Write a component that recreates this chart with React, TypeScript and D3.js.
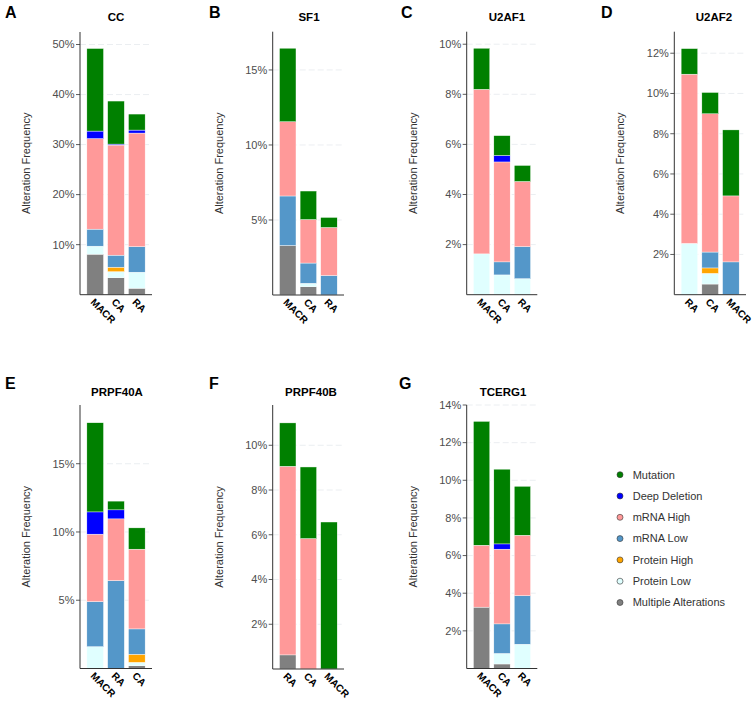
import React from "react";
import * as d3 from "d3";

// Series in stacking order (bottom -> top)
const seriesKeys = [
  "Multiple Alterations",
  "Protein Low",
  "Protein High",
  "mRNA Low",
  "mRNA High",
  "Deep Deletion",
  "Mutation",
];
const seriesColors = ["#808080", "#E0FFFF", "#FFA500", "#5497C9", "#FF9999", "#0000FF", "#008000"];
const legendOrder = [
  "Mutation",
  "Deep Deletion",
  "mRNA High",
  "mRNA Low",
  "Protein High",
  "Protein Low",
  "Multiple Alterations",
];

// Values (%) per cancer type, in seriesKeys order
const ccCategories = ["MACR", "CA", "RA"];
const ccValues = [
  [8.1, 1.6, 0, 3.4, 18.1, 1.5, 16.5],
  [3.4, 1.2, 0.9, 2.4, 22.0, 0.2, 8.6],
  [1.3, 3.2, 0, 5.1, 22.7, 0.6, 3.2],
];
const ccTicks = [10, 20, 30, 40, 50];

const sf1Categories = ["MACR", "CA", "RA"];
const sf1Values = [
  [3.3, 0, 0, 3.3, 4.95, 0, 4.9],
  [0.55, 0.23, 0, 1.35, 2.9, 0, 1.9],
  [0, 0, 0, 1.3, 3.2, 0, 0.67],
];
const sf1Ticks = [5, 10, 15];

const u2af1Categories = ["MACR", "CA", "RA"];
const u2af1Values = [
  [0, 1.63, 0, 0, 6.57, 0, 1.64],
  [0, 0.79, 0, 0.52, 3.99, 0.26, 0.79],
  [0, 0.64, 0, 1.28, 2.6, 0, 0.64],
];
const u2af1Ticks = [2, 4, 6, 8, 10];

const u2af2Categories = ["RA", "CA", "MACR"];
const u2af2Values = [
  [0, 2.55, 0, 0, 8.41, 0, 1.27],
  [0.53, 0.53, 0.27, 0.79, 6.87, 0, 1.06],
  [0, 0, 0, 1.63, 3.28, 0, 3.28],
];
const u2af2Ticks = [2, 4, 6, 8, 10, 12];

const prpf40aCategories = ["MACR", "RA", "CA"];
const prpf40aValues = [
  [0, 1.6, 0, 3.3, 4.94, 1.63, 6.53],
  [0, 0, 0, 6.44, 4.52, 0.66, 0.64],
  [0.2, 0.25, 0.59, 1.86, 5.84, 0, 1.56],
];
const prpf40aTicks = [5, 10, 15];

const prpf40bCategories = ["RA", "CA", "MACR"];
const prpf40bValues = [
  [0.63, 0, 0, 0, 8.43, 0, 1.94],
  [0, 0, 0, 0, 5.83, 0, 3.2],
  [0, 0, 0, 0, 0, 0, 6.57],
];
const prpf40bTicks = [2, 4, 6, 8, 10];

const tcerg1Categories = ["MACR", "CA", "RA"];
const tcerg1Values = [
  [3.26, 0, 0, 0, 3.29, 0, 6.58],
  [0.24, 0.56, 0, 1.57, 3.97, 0.28, 3.97],
  [0, 1.29, 0, 2.58, 3.21, 0, 2.6],
];
const tcerg1Ticks = [2, 4, 6, 8, 10, 12, 14];

const panelLetters = ["A", "B", "C", "D", "E", "F", "G"];
const panelTitles = ["CC", "SF1", "U2AF1", "U2AF2", "PRPF40A", "PRPF40B", "TCERG1"];
const panelMax = [52.5, 17.55, 10.5, 13.07, 19.3, 11.8, 14];

const panelData = [
  { categories: ccCategories, values: ccValues, ticks: ccTicks },
  { categories: sf1Categories, values: sf1Values, ticks: sf1Ticks },
  { categories: u2af1Categories, values: u2af1Values, ticks: u2af1Ticks },
  { categories: u2af2Categories, values: u2af2Values, ticks: u2af2Ticks },
  { categories: prpf40aCategories, values: prpf40aValues, ticks: prpf40aTicks },
  { categories: prpf40bCategories, values: prpf40bValues, ticks: prpf40bTicks },
  { categories: tcerg1Categories, values: tcerg1Values, ticks: tcerg1Ticks },
];

// Layout (pixel positions)
const layouts = [
  { x0: 80, x1: 152, top: 32, bottom: 294.7, letterX: 5, letterY: 18, titleX: 116, titleY: 21 },
  { x0: 272.7, x1: 344, top: 31.7, bottom: 295, letterX: 209, letterY: 18, titleX: 309, titleY: 21 },
  { x0: 466.7, x1: 537.3, top: 31.7, bottom: 294.7, letterX: 401, letterY: 18, titleX: 507, titleY: 21 },
  { x0: 674.3, x1: 746, top: 31.7, bottom: 294.7, letterX: 601, letterY: 18, titleX: 714, titleY: 21 },
  { x0: 80, x1: 152, top: 405, bottom: 668.5, letterX: 5, letterY: 389, titleX: 117, titleY: 395.7 },
  { x0: 272.7, x1: 344, top: 405, bottom: 669, letterX: 209, letterY: 389, titleX: 311, titleY: 395.7 },
  { x0: 466.7, x1: 537.3, top: 405, bottom: 668.5, letterX: 399, letterY: 389, titleX: 503, titleY: 395.7 },
];

const FONT = "'Liberation Sans', Arial, Helvetica, sans-serif";

function Panel({ idx }: { idx: number }) {
  const d = panelData[idx];
  const L = layouts[idx];
  const x = d3
    .scaleBand<string>()
    .domain(d.categories)
    .range([L.x0, L.x1])
    .paddingInner(0.2)
    .paddingOuter(0.33);
  const y = d3.scaleLinear().domain([0, panelMax[idx]]).range([L.bottom, L.top]);

  const rows = d.categories.map((c, i) => {
    const r: any = { cat: c };
    seriesKeys.forEach((k, j) => (r[k] = d.values[i][j]));
    return r;
  });
  const stacked = d3.stack<any>().keys(seriesKeys)(rows);

  return (
    <g>
      <text x={L.letterX} y={L.letterY} fontSize={16} fontWeight="bold" fill="#000" fontFamily={FONT}>
        {panelLetters[idx]}
      </text>
      <text
        x={L.titleX}
        y={L.titleY}
        fontSize={11.5}
        fontWeight="bold"
        textAnchor="middle"
        fill="#000"
        fontFamily={FONT}
      >
        {panelTitles[idx]}
      </text>
      {d.ticks.map((t) => (
        <line
          key={"g" + t}
          x1={L.x0}
          x2={L.x1}
          y1={y(t)}
          y2={y(t)}
          stroke="#e6eaee"
          strokeWidth={0.8}
          strokeDasharray="6,3"
        />
      ))}
      {stacked.map((s, j) => (
        <g key={s.key}>
          {s.map((seg: any, i: number) => {
            const h = y(seg[0]) - y(seg[1]);
            if (h <= 0) return null;
            return (
              <rect
                key={i}
                x={x(seg.data.cat)}
                width={x.bandwidth()}
                y={y(seg[1])}
                height={h}
                fill={seriesColors[j]}
                stroke="#ffffff"
                strokeWidth={0.4}
              />
            );
          })}
        </g>
      ))}
      <line x1={L.x0} x2={L.x0} y1={L.top} y2={L.bottom} stroke="#333" strokeWidth={1} />
      <line x1={L.x0} x2={L.x1} y1={L.bottom} y2={L.bottom} stroke="#333" strokeWidth={1} />
      {d.ticks.map((t) => (
        <g key={"t" + t}>
          <line x1={L.x0 - 4} x2={L.x0} y1={y(t)} y2={y(t)} stroke="#333" strokeWidth={0.8} />
          <text
            x={L.x0 - 5.5}
            y={y(t)}
            dy="0.35em"
            textAnchor="end"
            fontSize={11}
            fill="#4d4d4d"
            fontFamily={FONT}
          >
            {t + "%"}
          </text>
        </g>
      ))}
      {d.categories.map((c) => {
        const cx = (x(c) as number) + x.bandwidth() / 2;
        const cy = L.bottom + 3;
        return (
          <text
            key={"x" + c}
            x={0}
            y={0}
            dy="0.72em"
            transform={`translate(${cx},${cy}) rotate(45)`}
            fontSize={10}
            fontWeight="bold"
            fill="#000"
            fontFamily={FONT}
          >
            {c}
          </text>
        );
      })}
      <text
        transform={`translate(${L.x0 - 50},${(L.top + L.bottom) / 2}) rotate(-90)`}
        textAnchor="middle"
        fontSize={11}
        fill="#333"
        fontFamily={FONT}
      >
        Alteration Frequency
      </text>
    </g>
  );
}

function Legend() {
  return (
    <g>
      {legendOrder.map((k, i) => {
        const j = seriesKeys.indexOf(k);
        const cy = 474.7 + i * 21.3;
        return (
          <g key={k}>
            <circle cx={620} cy={cy} r={3} fill={seriesColors[j]} stroke="#333" strokeWidth={0.6} />
            <text x={632.7} y={cy} dy="0.35em" fontSize={11} fill="#333" fontFamily={FONT}>
              {k}
            </text>
          </g>
        );
      })}
    </g>
  );
}

export default function App() {
  return (
    <svg
      width={754}
      height={703}
      style={{ position: "absolute", left: 0, top: 0, background: "#fff" }}
    >
      <rect width={754} height={703} fill="#fff" />
      {panelData.map((_, i) => (
        <Panel key={i} idx={i} />
      ))}
      <Legend />
    </svg>
  );
}
